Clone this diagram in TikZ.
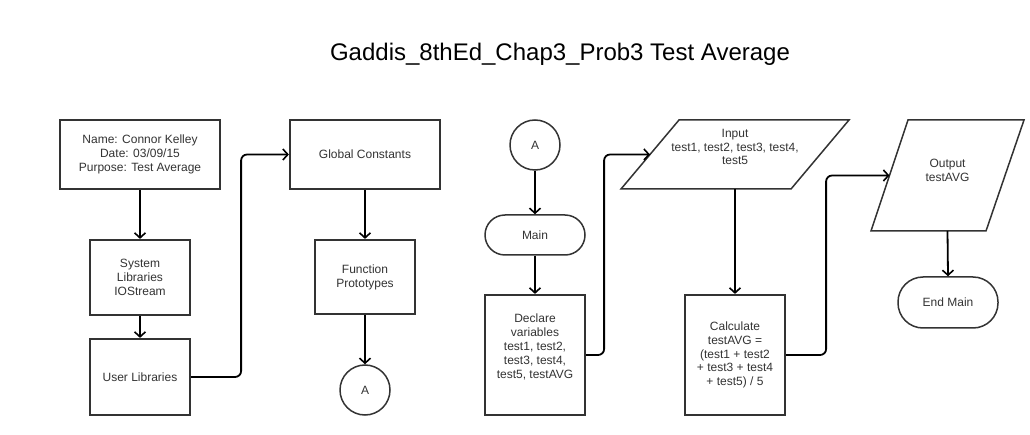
\documentclass[tikz,border=0pt]{standalone}
\usepackage{fontspec}
\setmainfont{Liberation Sans}
\usetikzlibrary{arrows.meta}
\definecolor{boxc}{HTML}{333333}
\definecolor{txtc}{HTML}{333333}
\begin{document}
\begin{tikzpicture}[x=1pt,y=-1pt,
  txt/.style={font=\fontsize{12}{13.8}\selectfont, text=txtc, align=center, inner sep=0pt},
  rectbox/.style={txt, draw=boxc, line width=2.2pt, fill=white},
  circbox/.style={txt, draw=boxc, line width=1.5pt, circle, minimum size=50pt},
  termbox/.style={txt, draw=boxc, line width=1.5pt, rounded corners=#1},
  conn/.style={draw=black, line width=1.8pt, rounded corners=6pt, -{Straight Barb[length=5pt,width=11pt,line width=1.6pt]}},
  shapeline/.style={draw=boxc, line width=1.5pt, line join=miter}
]
\useasboundingbox (0,0) rectangle (1030,435);

% title
\node[font=\fontsize{24}{28}\selectfont, inner sep=0pt, text=black] (title) at (560,54) {Gaddis\_8thEd\_Chap3\_Prob3 Test Average};

% left column
\node[rectbox, minimum width=160pt, minimum height=69pt] (name) at (140,154.5) {Name: Connor Kelley\\Date: 03/09/15\\Purpose: Test Average};
\node[rectbox, minimum width=100pt, minimum height=75pt] (sys) at (140,277.5) {System\\Libraries\\IOStream};
\node[rectbox, minimum width=100pt, minimum height=76pt] (user) at (140,377) {User Libraries};

% second column
\node[rectbox, minimum width=150pt, minimum height=69pt] (global) at (365,154.5) {Global Constants};
\node[rectbox, minimum width=100pt, minimum height=74pt] (proto) at (365,277) {Function\\Prototypes};
\node[circbox] (a1) at (365,390) {A};

% third column
\node[circbox] (a2) at (535,145) {A};
\node[termbox=20pt, minimum width=100pt, minimum height=40pt] (main) at (535,235) {Main};
\node[rectbox, minimum width=100pt, minimum height=120pt,
  label={[txt, yshift=8pt]center:{Declare\\variables\\test1, test2,\\test3, test4,\\test5, testAVG}}] (decl) at (535,355) {};

% input parallelogram
\draw[shapeline] (679,120) -- (849,120) -- (791,189) -- (621,189) -- cycle;
\node[txt] (input) at (735,147) {Input\\test1, test2, test3, test4,\\test5};
\coordinate (inL) at (650,154.5);
\coordinate (inB) at (735,189);

\node[rectbox, minimum width=100pt, minimum height=120pt] (calc) at (735,355) {Calculate\\testAVG =\\(test1 + test2\\+ test3 + test4\\+ test5) / 5};

% output parallelogram
\draw[shapeline] (908,120) -- (1024,120) -- (986,231) -- (871,231) -- cycle;
\node[txt] (output) at (947.5,170) {Output\\testAVG};
\coordinate (outL) at (889.5,175.5);
\coordinate (outB) at (947.5,231);

\node[termbox=25pt, minimum width=100pt, minimum height=51pt] (endm) at (948,302.5) {End Main};

% connectors
\draw[conn] (name.south) -- (sys.north);
\draw[conn] (sys.south) -- (user.north);
\draw[conn] (user.east) -- ++(50,0) |- (global.west);
\draw[conn] (global.south) -- (proto.north);
\draw[conn] (proto.south) -- (a1.north);
\draw[conn] (a2.south) -- (main.north);
\draw[conn] (main.south) -- (decl.north);
\draw[conn] (decl.east) -- ++(18,0) |- (inL);
\draw[conn] (inB) -- (calc.north);
\draw[conn] (calc.east) -- ++(40,0) |- (outL);
\draw[conn] (outB) -- (endm.north);
\end{tikzpicture}
\end{document}
